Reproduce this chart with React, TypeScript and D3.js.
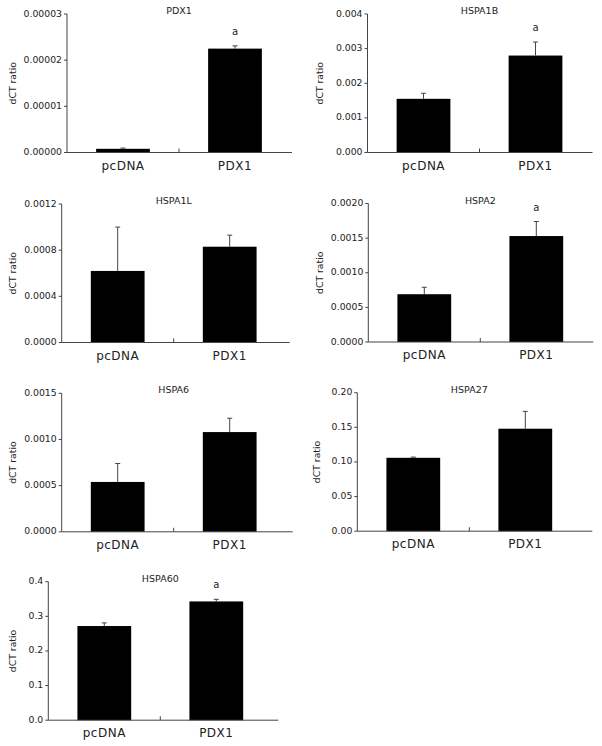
import * as d3 from 'd3'

// chart values
const genes = ['PDX1', 'HSPA1B', 'HSPA1L', 'HSPA2', 'HSPA6', 'HSPA27', 'HSPA60']
const groups = ['pcDNA', 'PDX1']
const meanPcDNA = [0.0000008, 0.00155, 0.00062, 0.00069, 0.00054, 0.106, 0.272]
const meanPDX1 = [0.0000225, 0.0028, 0.00083, 0.00153, 0.00108, 0.148, 0.343]
const sdPcDNA = [0.00000015, 0.00016, 0.00038, 0.0001, 0.0002, 0.001, 0.009]
const sdPDX1 = [0.0000006, 0.00039, 0.0001, 0.00021, 0.00015, 0.025, 0.006]
const yMax = [0.00003, 0.004, 0.0012, 0.002, 0.0015, 0.2, 0.4]
const yStep = [0.00001, 0.001, 0.0004, 0.0005, 0.0005, 0.05, 0.1]
const yDecimals = [5, 3, 4, 4, 4, 2, 1]
const significant = [true, true, false, true, false, false, true]

// panel layout
const panelLeft = [67, 367.5, 61.7, 368.3, 61.7, 357.3, 48.3]
const panelTop = [14, 14, 204, 203.5, 393.3, 392.7, 581.7]
const axisLen = [225, 225, 228, 225, 231, 235, 230]
const ylabelX = [13.3, 320.5, 13.3, 320.5, 13.3, 317.3, 13.3]
const PH = 138.5
const PW = 224

const FONT = 'DejaVu Sans, Verdana, sans-serif'
const INK = '#222'
const AXIS = '#444'

function Panel({ i }: { i: number }) {
  const left = panelLeft[i]
  const top = panelTop[i]
  const y = d3.scaleLinear().domain([0, yMax[i]]).range([top + PH, top])
  const x = d3.scaleBand().domain(groups).range([left, left + PW]).paddingInner(0.52).paddingOuter(0.26)
  const ticks = d3.range(0, yMax[i] + yStep[i] / 2, yStep[i])
  const fmt = d3.format(`.${yDecimals[i]}f`)
  const means = [meanPcDNA[i], meanPDX1[i]]
  const sds = [sdPcDNA[i], sdPDX1[i]]
  const zero = y(0)
  const mid = left + PW / 2
  const bw = x.bandwidth()

  return (
    <g>
      <text x={mid} y={top} textAnchor="middle" fontSize={9.5} fill={INK} fontFamily={FONT}>{genes[i]}</text>
      <text
        transform={`translate(${ylabelX[i]},${top + PH / 2}) rotate(-90)`}
        textAnchor="middle" dominantBaseline="middle" fontSize={9.3} fill={INK} fontFamily={FONT}
      >dCT ratio</text>

      {groups.map((g, k) => {
        const cx = (x(g) as number) + bw / 2
        const yt = y(means[k])
        const ye = y(means[k] + sds[k])
        return (
          <g key={g}>
            <rect x={x(g)} y={yt} width={bw} height={zero - yt} fill="#000" />
            <line x1={cx} x2={cx} y1={yt} y2={ye} stroke={AXIS} strokeWidth={1} />
            <line x1={cx - 2.5} x2={cx + 2.5} y1={ye} y2={ye} stroke={AXIS} strokeWidth={1} />
            {k === 1 && significant[i] && (
              <text x={cx} y={ye - 11} textAnchor="middle" fontSize={10} fill={INK} fontFamily={FONT}>a</text>
            )}
            <text x={cx} y={zero + 17} textAnchor="middle" fontSize={12} letterSpacing={0.5} fill={INK} fontFamily={FONT}>{g}</text>
          </g>
        )
      })}

      <line x1={left} x2={left} y1={top} y2={zero} stroke={AXIS} strokeWidth={1} />
      <line x1={left} x2={left + axisLen[i]} y1={zero} y2={zero} stroke={AXIS} strokeWidth={1} />
      <line x1={mid} x2={mid} y1={zero} y2={zero - 4} stroke={AXIS} strokeWidth={1} />
      {ticks.map(t => (
        <g key={t}>
          <line x1={left - 3} x2={left} y1={y(t)} y2={y(t)} stroke={AXIS} strokeWidth={1} />
          <text x={left - 5} y={y(t)} textAnchor="end" dominantBaseline="middle" fontSize={9.3} fill={INK} fontFamily={FONT}>{fmt(t)}</text>
        </g>
      ))}
    </g>
  )
}

export default function App() {
  return (
    <div style={{ position: 'absolute', left: 0, top: 0 }}>
      <svg width={602} height={746} style={{ display: 'block', background: '#fff' }}>
        {genes.map((g, i) => <Panel key={g} i={i} />)}
      </svg>
    </div>
  )
}
